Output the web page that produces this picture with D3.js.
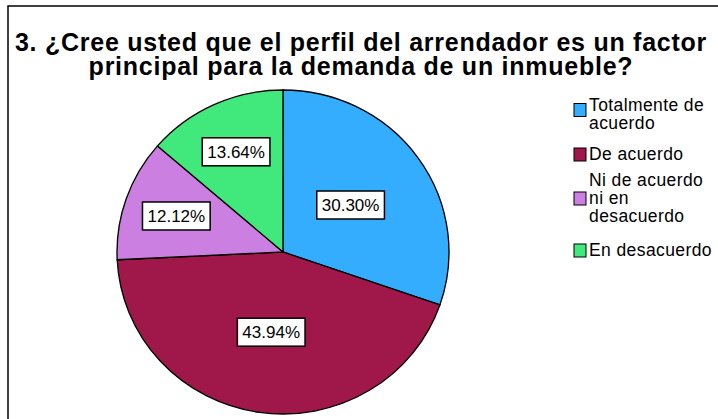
<!DOCTYPE html>
<html>
<head>
<meta charset="utf-8">
<script src="https://cdn.jsdelivr.net/npm/d3@7"></script>
<style>
  body { margin: 0; background: #fff; }
  svg { display: block; font-family: "Liberation Sans", Arial, sans-serif; }
</style>
</head>
<body>
<div id="chart"></div>
<script>
// chart data
var categories = ['Totalmente de acuerdo', 'De acuerdo', 'Ni de acuerdo ni en desacuerdo', 'En desacuerdo'];
var legendLines = [['Totalmente de', 'acuerdo'], ['De acuerdo'], ['Ni de acuerdo', 'ni en', 'desacuerdo'], ['En desacuerdo']];
var percents = [30.30, 43.94, 12.12, 13.64];
var colors = ['#34adfe', '#a0184a', '#cb7fe0', '#41e97d'];
var titleLines = ['3. ¿Cree usted que el perfil del arrendador es un factor', 'principal para la demanda de un inmueble?'];

var width = 718,
    height = 419;

var svg = d3.select('#chart').append('svg')
    .attr('width', width)
    .attr('height', height);

// outer frame (right and bottom edges are cut off in the original)
svg.append('rect')
    .attr('x', 8)
    .attr('y', 6)
    .attr('width', 740)
    .attr('height', 440)
    .style('fill', 'white')
    .style('stroke', 'black')
    .style('stroke-width', 1.5);

// title
svg.append('g').selectAll('text')
    .data(titleLines)
    .enter()
    .append('text')
    .attr('x', 361)
    .attr('y', function (d, i) { return 51 + i * 24; })
    .attr('text-anchor', 'middle')
    .style('font-size', '25px')
    .style('letter-spacing', '0.75px')
    .style('font-weight', 'bold')
    .text(function (d) { return d; });

// pie
var cx = 283, cy = 252, r = 162, sx = 166 / 162;

var pie = d3.pie()
    .sort(null)
    .value(function (d) { return d; });

var arcs = pie(percents);

var arc = d3.arc()
    .innerRadius(0)
    .outerRadius(r);

var pieG = svg.append('g')
    .attr('transform', 'translate(' + cx + ',' + cy + ') scale(' + sx + ',1)');

pieG.selectAll('path')
    .data(arcs)
    .enter()
    .append('path')
    .attr('d', arc)
    .style('fill', function (d, i) { return colors[i]; })
    .style('stroke', 'black')
    .style('stroke-width', 1.3);

// labels: small slices get pushed further out
function labelPos(d) {
    var share = (d.endAngle - d.startAngle) / (2 * Math.PI);
    var lr = r * (share < 0.2 ? 0.68 : 0.5);
    var c = d3.arc().innerRadius(lr).outerRadius(lr).centroid(d);
    return [cx + c[0] * sx, cy + c[1]];
}

var labels = svg.append('g').selectAll('g')
    .data(arcs)
    .enter()
    .append('g')
    .attr('transform', function (d) {
        var p = labelPos(d);
        return 'translate(' + p[0] + ',' + p[1] + ')';
    });

labels.append('rect');
labels.append('text')
    .attr('text-anchor', 'middle')
    .attr('dy', '0.36em')
    .style('font-size', '17px')
    .text(function (d) { return d.data.toFixed(2) + '%'; });

labels.each(function () {
    var g = d3.select(this);
    var w = g.select('text').node().getComputedTextLength() + 10;
    g.select('rect')
        .attr('x', -w / 2)
        .attr('y', -14)
        .attr('width', w)
        .attr('height', 28)
        .style('fill', 'white')
        .style('stroke', 'black')
        .style('stroke-width', 1.5);
});

// legend
var legendTop = [111, 160, 186, 256];   // baseline of each item's first line
var swatchLine = [0.25, 0, 1, 0];       // which line the swatch sits next to
var lineH = 18;

var legend = svg.append('g').selectAll('g')
    .data(categories)
    .enter()
    .append('g');

legend.append('rect')
    .attr('x', 574)
    .attr('y', function (d, i) { return legendTop[i] + swatchLine[i] * lineH - 12; })
    .attr('width', 12)
    .attr('height', 13)
    .style('fill', function (d, i) { return colors[i]; })
    .style('stroke', 'black')
    .style('stroke-width', 1);

legend.append('text')
    .attr('x', 589)
    .attr('y', function (d, i) { return legendTop[i]; })
    .style('font-size', '17.5px')
    .style('letter-spacing', '0.4px')
    .selectAll('tspan')
    .data(function (d, i) { return legendLines[i]; })
    .enter()
    .append('tspan')
    .attr('x', 589)
    .attr('dy', function (d, i) { return i === 0 ? 0 : lineH; })
    .text(function (d) { return d; });
</script>
</body>
</html>
